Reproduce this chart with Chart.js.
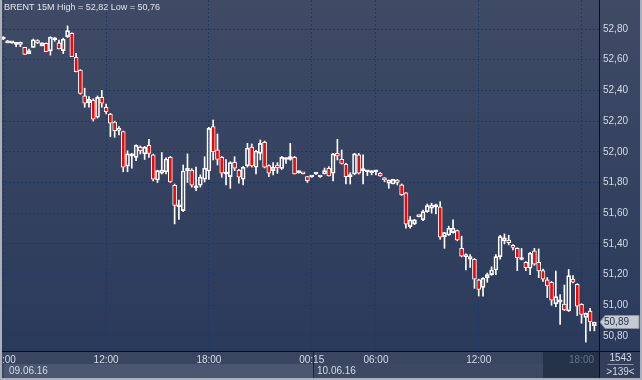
<!DOCTYPE html>
<html>
<head>
<meta charset="utf-8">
<script src="https://cdn.jsdelivr.net/npm/chart.js@4.4.1/dist/chart.umd.min.js"></script>
<style>
  html, body { margin: 0; padding: 0; background: #2f3c58; }
  #wrap { width: 642px; height: 380px; }
</style>
</head>
<body>
<div id="wrap"><canvas id="brentChart" width="642" height="380"></canvas></div>
<script>
// BRENT 15M candles (oldest first)
const opens = [
  52.735, 52.71, 52.71, 52.70, 52.70, 52.68, 52.64, 52.68, 52.725, 52.69,
  52.707, 52.657, 52.73, 52.71, 52.659, 52.75, 52.772, 52.616, 52.533, 52.364,
  52.32, 52.337, 52.225, 52.355, 52.29, 52.246, 52.194, 52.14, 52.131, 51.907,
  51.973, 51.964, 52.03, 51.986, 52.042, 51.98, 51.816, 51.86, 51.87, 51.964,
  51.782, 51.642, 51.617, 51.877, 51.881, 51.765, 51.782, 51.821, 51.875, 52.164,
  52.012, 51.964, 51.855, 51.838, 51.932, 51.881, 51.821, 51.908, 52.03, 51.899,
  51.99, 52.064, 51.91, 51.877, 51.914, 51.892, 51.95, 51.951, 51.964, 51.864,
  51.86, 51.838, 51.836, 51.855, 51.836, 51.855, 51.893, 51.86, 51.99, 51.951,
  51.92, 51.838, 51.855, 51.98, 51.877, 51.87, 51.864, 51.87, 51.86, 51.83,
  51.795, 51.79, 51.816, 51.784, 51.733, 51.512, 51.53, 51.578, 51.556, 51.61,
  51.632, 51.642, 51.642, 51.447, 51.458, 51.473, 51.486, 51.371, 51.316, 51.3,
  51.3, 51.165, 51.117, 51.18, 51.2, 51.23, 51.317, 51.42, 51.425, 51.39,
  51.371, 51.298, 51.28, 51.241, 51.354, 51.28, 51.226, 51.165, 51.15, 51.01,
  51.02, 51.008, 50.963, 51.171, 51.137, 51.006, 50.92, 50.962, 50.867
];
const highs = [
  52.75, 52.725, 52.712, 52.706, 52.715, 52.68, 52.67, 52.735, 52.73, 52.71,
  52.71, 52.75, 52.745, 52.728, 52.74, 52.82, 52.775, 52.642, 52.535, 52.414,
  52.36, 52.345, 52.364, 52.40, 52.311, 52.25, 52.2, 52.164, 52.135, 52.007,
  51.99, 52.045, 52.038, 52.035, 52.081, 51.985, 51.88, 51.995, 51.96, 51.97,
  51.79, 51.686, 51.914, 51.986, 51.89, 51.9, 51.85, 51.968, 52.16, 52.207,
  52.116, 51.97, 51.95, 51.935, 51.968, 51.885, 51.905, 52.055, 52.051, 52.01,
  52.077, 52.07, 51.915, 51.929, 51.929, 51.97, 51.96, 52.055, 51.97, 51.875,
  51.86, 51.84, 51.838, 51.857, 51.838, 51.894, 51.903, 51.99, 52.081, 52.012,
  51.925, 51.864, 51.99, 51.99, 51.98, 51.877, 51.875, 51.88, 51.865, 51.832,
  51.816, 51.82, 51.82, 51.79, 51.735, 51.578, 51.56, 51.58, 51.62, 51.66,
  51.665, 51.66, 51.675, 51.475, 51.515, 51.556, 51.49, 51.45, 51.335, 51.33,
  51.305, 51.17, 51.18, 51.21, 51.25, 51.33, 51.455, 51.465, 51.456, 51.395,
  51.375, 51.37, 51.285, 51.345, 51.371, 51.367, 51.235, 51.18, 51.155, 51.223,
  51.07, 51.132, 51.233, 51.193, 51.14, 51.01, 50.95, 50.98, 50.89
];
const lows = [
  52.73, 52.71, 52.708, 52.685, 52.685, 52.635, 52.64, 52.68, 52.705, 52.69,
  52.652, 52.63, 52.72, 52.67, 52.64, 52.745, 52.62, 52.52, 52.375, 52.29,
  52.29, 52.2, 52.22, 52.29, 52.246, 52.098, 52.094, 52.11, 51.87, 51.87,
  51.893, 51.942, 51.986, 51.95, 51.964, 51.81, 51.8, 51.855, 51.855, 51.8,
  51.53, 51.56, 51.61, 51.8, 51.77, 51.746, 51.77, 51.803, 51.82, 51.947,
  51.914, 51.834, 51.784, 51.762, 51.877, 51.795, 51.784, 51.9, 51.9, 51.855,
  51.947, 51.895, 51.838, 51.849, 51.86, 51.885, 51.925, 51.945, 51.855, 51.86,
  51.855, 51.8, 51.834, 51.853, 51.834, 51.855, 51.842, 51.81, 51.947, 51.92,
  51.79, 51.79, 51.85, 51.855, 51.79, 51.845, 51.85, 51.85, 51.84, 51.805,
  51.762, 51.79, 51.784, 51.715, 51.502, 51.502, 51.525, 51.576, 51.552, 51.605,
  51.6, 51.595, 51.43, 51.371, 51.455, 51.47, 51.42, 51.315, 51.23, 51.247,
  51.11, 51.06, 51.06, 51.15, 51.195, 51.2, 51.3, 51.4, 51.393, 51.36,
  51.226, 51.295, 51.226, 51.2, 51.26, 51.18, 51.155, 51.05, 51.0, 50.99,
  50.876, 50.965, 50.96, 51.145, 50.933, 50.883, 50.76, 50.833, 50.833
];
const closes = [
  52.735, 52.72, 52.71, 52.70, 52.71, 52.635, 52.66, 52.73, 52.71, 52.71,
  52.652, 52.746, 52.73, 52.67, 52.733, 52.789, 52.62, 52.522, 52.38, 52.316,
  52.342, 52.212, 52.355, 52.316, 52.261, 52.186, 52.137, 52.15, 51.899, 51.986,
  51.973, 52.042, 52.005, 52.03, 51.99, 51.821, 51.877, 51.881, 51.953, 51.803,
  51.651, 51.652, 51.875, 51.893, 51.782, 51.775, 51.834, 51.893, 52.153, 52.0,
  51.951, 51.86, 51.855, 51.929, 51.893, 51.834, 51.899, 52.023, 51.908, 52.005,
  52.055, 51.899, 51.86, 51.899, 51.897, 51.964, 51.955, 51.968, 51.855, 51.864,
  51.856, 51.812, 51.837, 51.856, 51.837, 51.877, 51.842, 51.986, 51.973, 51.925,
  51.838, 51.84, 51.986, 51.86, 51.878, 51.875, 51.865, 51.871, 51.842, 51.816,
  51.816, 51.82, 51.8, 51.72, 51.528, 51.556, 51.556, 51.579, 51.61, 51.649,
  51.653, 51.643, 51.443, 51.473, 51.502, 51.502, 51.425, 51.32, 51.33, 51.318,
  51.17, 51.104, 51.176, 51.2, 51.23, 51.317, 51.447, 51.44, 51.408, 51.377,
  51.31, 51.302, 51.245, 51.339, 51.267, 51.223, 51.17, 51.128, 51.033, 51.056,
  51.035, 50.97, 51.193, 51.15, 50.994, 50.94, 50.948, 50.893, 50.89
];

// axis ticks
const timeTickIdx = [0, 24, 48, 72, 87, 111, 135];
const timeTickText = ['06:00', '12:00', '18:00', '00:15', '06:00', '12:00', '18:00'];
const priceTicks = [50.8, 51.0, 51.2, 51.4, 51.6, 51.8, 52.0, 52.2, 52.4, 52.6, 52.8];
const dayLabels = ['09.06.16', '10.06.16'];
const dayStartIdx = [0, 72];

const symbolTitle = 'BRENT 15M High = 52,82 Low = 50,76';
const barCount = '1543';
const visibleBars = '>139<';

const FONT = "'Liberation Sans', Arial, sans-serif";
const TEXT = '#d3dae8';
const GRID = '#1f3864';

const fmt = v => v.toFixed(2).replace('.', ',');

const upperWick = opens.map((o, i) => ({x: i, y: [Math.max(o, closes[i]), highs[i]]}));
const lowerWick = opens.map((o, i) => ({x: i, y: [lows[i], Math.min(o, closes[i])]}));
const bodies = opens.map((o, i) => ({x: i, y: [o, closes[i]]}));

// no label-driven padding, the plot runs to the canvas edges
function noPad(s) {
  s.paddingLeft = 0; s.paddingRight = 0; s.paddingTop = 0; s.paddingBottom = 0;
}

// background panels + overlay texts
const terminalFrame = {
  id: 'terminalFrame',
  beforeDraw(chart) {
    const {ctx, chartArea: a, width, height} = chart;
    const xs = chart.scales.x;
    ctx.save();
    const g = ctx.createLinearGradient(0, 0, 0, a.bottom);
    g.addColorStop(0, '#3f4b65');
    g.addColorStop(1, '#2a3a5b');
    ctx.fillStyle = g;
    ctx.fillRect(0, 0, width, a.bottom);

    ctx.fillStyle = '#3a4660';
    ctx.fillRect(0, a.bottom, width, height - a.bottom);
    const split = Math.round(xs.getPixelForValue(dayStartIdx[1])) + 1;
    ctx.fillStyle = '#4b5771';
    ctx.fillRect(4, 364, split - 4, 14);
    ctx.fillStyle = '#3d4963';
    ctx.fillRect(split, 364, 543 - split, 14);
    ctx.fillStyle = '#26314a';
    ctx.fillRect(543, a.bottom, a.right - 543, height - a.bottom - 2);
    ctx.fillStyle = '#323e5a';
    ctx.fillRect(a.right, a.bottom, width - a.right, height - a.bottom);
    ctx.restore();
  },
  afterDraw(chart) {
    const {ctx, chartArea: a, width, height} = chart;
    const xs = chart.scales.x, ys = chart.scales.y;
    ctx.save();
    ctx.font = '9px ' + FONT;
    ctx.fillStyle = '#dfe4ee';
    ctx.textBaseline = 'middle';
    ctx.fillText(symbolTitle, 4, 8);

    // day strip
    ctx.font = '10px ' + FONT;
    ctx.fillStyle = TEXT;
    dayLabels.forEach((d, k) => {
      const x = k === 0 ? 9 : Math.round(xs.getPixelForValue(dayStartIdx[k])) + 5;
      ctx.fillText(d, x, 371);
    });
    const split = Math.round(xs.getPixelForValue(dayStartIdx[1])) + 1.5;
    ctx.strokeStyle = '#1c2538';
    ctx.lineWidth = 1;
    ctx.beginPath();
    ctx.moveTo(split, a.bottom); ctx.lineTo(split, height - 2);
    ctx.stroke();

    // axis lines
    ctx.strokeStyle = '#0b0e16';
    ctx.beginPath();
    ctx.moveTo(0, a.bottom + 0.5); ctx.lineTo(width, a.bottom + 0.5);
    ctx.moveTo(a.right + 0.5, 0); ctx.lineTo(a.right + 0.5, height);
    ctx.stroke();

    // last price tag
    const last = closes[closes.length - 1];
    const py = Math.round(ys.getPixelForValue(last));
    ctx.fillStyle = '#c6cad2';
    ctx.strokeStyle = '#8c93a0';
    ctx.beginPath();
    ctx.moveTo(a.right + 1, py);
    ctx.lineTo(a.right + 6, py - 6.5);
    ctx.lineTo(width - 3, py - 6.5);
    ctx.lineTo(width - 3, py + 6.5);
    ctx.lineTo(a.right + 6, py + 6.5);
    ctx.closePath();
    ctx.fill();
    ctx.stroke();
    ctx.fillStyle = '#28344f';
    ctx.fillText(fmt(last), a.right + 5, py + 0.5);

    // counter box
    ctx.fillStyle = TEXT;
    ctx.textAlign = 'center';
    const cx = (a.right + width) / 2;
    ctx.fillText(barCount, cx, 358);
    ctx.fillText(visibleBars, cx, 372);
    ctx.strokeStyle = '#8a93a6';
    ctx.beginPath();
    ctx.moveTo(cx - 13, 364.5); ctx.lineTo(cx + 13, 364.5);
    ctx.stroke();

    // outer frame
    ctx.strokeStyle = '#aab1bc';
    ctx.lineWidth = 2;
    ctx.beginPath();
    ctx.moveTo(1, 0); ctx.lineTo(1, height - 1);
    ctx.lineTo(width - 1, height - 1); ctx.lineTo(width - 1, 0);
    ctx.stroke();
    ctx.restore();
  }
};

const ctx = document.getElementById('brentChart').getContext('2d');

new Chart(ctx, {
  type: 'bar',
  data: {
    datasets: [{
      label: 'upper wick',
      data: upperWick,
      backgroundColor: '#ffffff',
      barThickness: 1,
      grouped: false,
    }, {
      label: 'lower wick',
      data: lowerWick,
      backgroundColor: '#ffffff',
      barThickness: 1,
      grouped: false,
    }, {
      label: 'body',
      data: bodies,
      backgroundColor: c => closes[c.dataIndex] < opens[c.dataIndex] ? '#ff0000' : 'rgba(0,0,0,0)',
      borderColor: '#ffffff',
      borderWidth: 1,
      borderSkipped: false,
      barThickness: 4,
      minBarLength: 2,
      grouped: false,
    }],
  },
  options: {
    responsive: false,
    animation: false,
    devicePixelRatio: 1,
    layout: {autoPadding: false, padding: {left: 1, top: 0, right: 0, bottom: 0}},
    plugins: {legend: {display: false}, tooltip: {enabled: false}},
    scales: {
      x: {
        type: 'linear',
        min: -0.537,
        max: 139.08,
        offset: false,
        afterFit: s => { s.height = 29; noPad(s); },
        afterBuildTicks: s => { s.ticks = timeTickIdx.map(v => ({value: v})); },
        grid: {color: GRID, drawTicks: false, offset: false},
        border: {display: false, dash: [2, 2]},
        ticks: {
          autoSkip: false,
          maxRotation: 0,
          padding: 3,
          font: {family: FONT, size: 10},
          color: c => c.index === timeTickIdx.length - 1 ? '#66718a' : TEXT,
          callback: (v, i) => timeTickText[i],
        },
      },
      y: {
        position: 'right',
        min: 50.702,
        max: 52.989,
        afterFit: s => { s.width = 43; noPad(s); },
        afterBuildTicks: s => { s.ticks = priceTicks.map(v => ({value: v})); },
        grid: {color: GRID, drawTicks: false},
        border: {display: false, dash: [2, 2]},
        ticks: {
          padding: 4,
          font: {family: FONT, size: 10},
          color: TEXT,
          callback: v => fmt(v),
        },
      },
    },
  },
  plugins: [terminalFrame],
});
</script>
</body>
</html>
